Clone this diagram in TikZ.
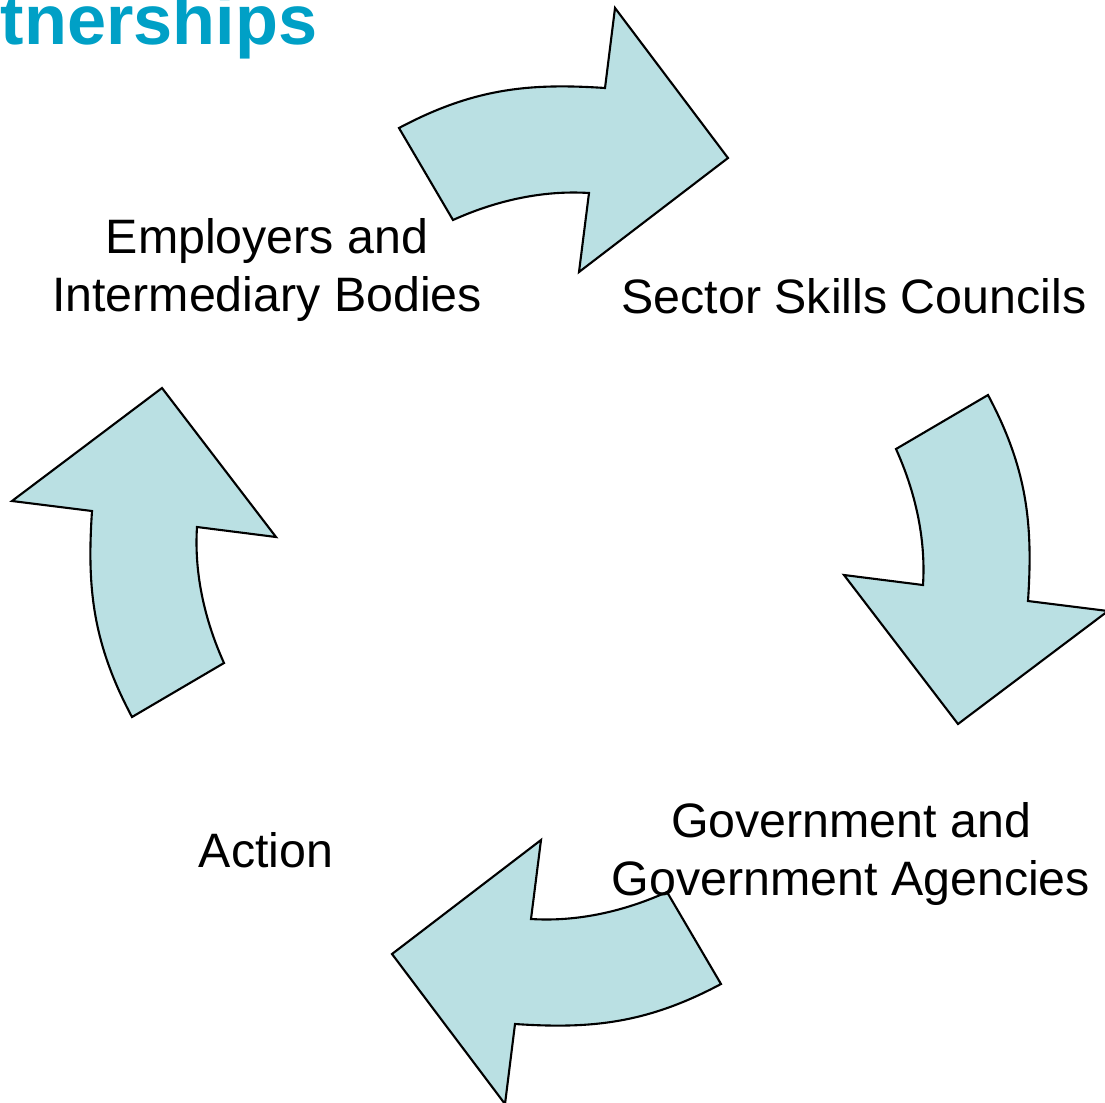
\documentclass[tikz,border=0pt]{standalone}
\usepackage{fontspec}
\setmainfont{Liberation Sans}
\usepackage{tikz}

\definecolor{cyclefill}{HTML}{BAE0E3}
\definecolor{titleblue}{HTML}{00A0C6}

\begin{document}
\begin{tikzpicture}[
    cyc/.style={draw=black,fill=cyclefill,line width=0.6pt,line join=miter},
    lbl/.style={align=center,inner sep=0pt,font=\fontsize{13.75}{16.5}\selectfont}
  ]
    \useasboundingbox (0,0) rectangle (11.05,-11.02);
    \node[titleblue,anchor=base west,inner sep=0pt,font=\fontsize{20}{24}\selectfont\bfseries] (title) at (0,-0.44) {tnerships};
    \draw [cyc,shift={(5.60,-5.56)},rotate=0](-1.61,4.28) .. controls (-0.86,4.68) and (-0.30,4.73) .. (0.45,4.68) -- (0.55,5.48) -- (1.68,3.98) -- (0.19,2.84) -- (0.29,3.63) .. controls (-0.18,3.66) and (-0.65,3.55) .. (-1.07,3.36) -- cycle;
    \draw [cyc,shift={(5.60,-5.56)},rotate=-90](-1.61,4.28) .. controls (-0.86,4.68) and (-0.30,4.73) .. (0.45,4.68) -- (0.55,5.48) -- (1.68,3.98) -- (0.19,2.84) -- (0.29,3.63) .. controls (-0.18,3.66) and (-0.65,3.55) .. (-1.07,3.36) -- cycle;
    \draw [cyc,shift={(5.60,-5.56)},rotate=180](-1.61,4.28) .. controls (-0.86,4.68) and (-0.30,4.73) .. (0.45,4.68) -- (0.55,5.48) -- (1.68,3.98) -- (0.19,2.84) -- (0.29,3.63) .. controls (-0.18,3.66) and (-0.65,3.55) .. (-1.07,3.36) -- cycle;
    \draw [cyc,shift={(5.60,-5.56)},rotate=90](-1.61,4.28) .. controls (-0.86,4.68) and (-0.30,4.73) .. (0.45,4.68) -- (0.55,5.48) -- (1.68,3.98) -- (0.19,2.84) -- (0.29,3.63) .. controls (-0.18,3.66) and (-0.65,3.55) .. (-1.07,3.36) -- cycle;
    \node[lbl] (employers) at (2.67,-2.70) {Employers and\\Intermediary Bodies};
    \node[lbl] (ssc) at (8.54,-2.96) {Sector Skills Councils};
    \node[lbl] (government) at (8.51,-8.54) {Government and\\Government Agencies};
    \node[lbl] (action) at (2.66,-8.50) {Action};
\end{tikzpicture}
\end{document}
